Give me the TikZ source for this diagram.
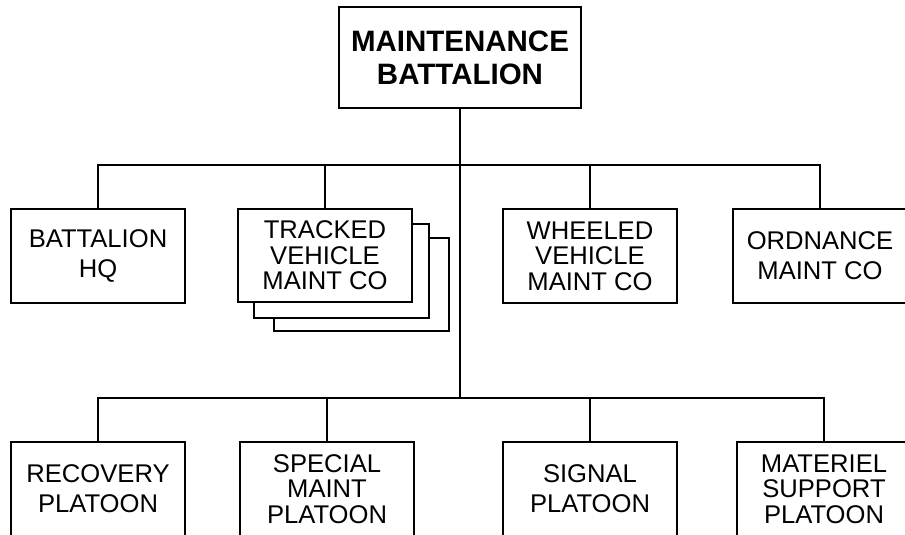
\documentclass[tikz,border=0pt]{standalone}
\usepackage{fontspec}
\setmainfont{Liberation Sans}

\begin{document}
\begin{tikzpicture}[x=1pt,y=-1pt,line width=1.2pt,
  unit/.style={draw,fill=white,inner sep=0pt,align=center,minimum width=174pt,minimum height=94pt,font=\fontsize{25.6}{30}\selectfont},
  tight/.style={font=\fontsize{25.6}{25.5}\selectfont}]
\useasboundingbox (0,0) rectangle (905,535);
\clip (0,0) rectangle (905,535);
\coordinate (bus1) at (460,165);
\coordinate (bus2) at (460,398);
\node[unit,minimum width=242pt,minimum height=101pt,font=\bfseries\fontsize{29.5}{33.3}\selectfont] (mb) at (460,57.5) {MAINTENANCE\\BATTALION};
% companies
\node[unit] (hq) at (98,256) {BATTALION\\HQ};
\node[unit,minimum width=175pt,minimum height=93pt] (tvm3) at (361.5,284.5) {};
\node[unit,minimum width=175pt] (tvm2) at (341.5,271) {};
\node[unit,tight,minimum height=93pt] (tvm) at (325,255.5) {TRACKED\\VEHICLE\\MAINT CO};
\node[unit,tight] (wvm) at (590,256) {WHEELED\\VEHICLE\\MAINT CO};
\node[unit] (omc) at (820,256) {ORDNANCE\\MAINT CO};
% platoons
\node[unit] (rp) at (98,489) {RECOVERY\\PLATOON};
\node[unit,tight] (smp) at (327,489) {SPECIAL\\MAINT\\PLATOON};
\node[unit] (sp) at (590,489) {SIGNAL\\PLATOON};
\node[unit,tight] (msp) at (824,489) {MATERIEL\\SUPPORT\\PLATOON};
% lines
\draw (mb.south) -- (bus2);
\draw (hq.north) |- (bus1) -| (omc.north);
\draw (tvm.north) -- (tvm.north |- bus1);
\draw (wvm.north) -- (wvm.north |- bus1);
\draw (rp.north) |- (bus2) -| (msp.north);
\draw (smp.north) -- (smp.north |- bus2);
\draw (sp.north) -- (sp.north |- bus2);
\end{tikzpicture}
\end{document}
